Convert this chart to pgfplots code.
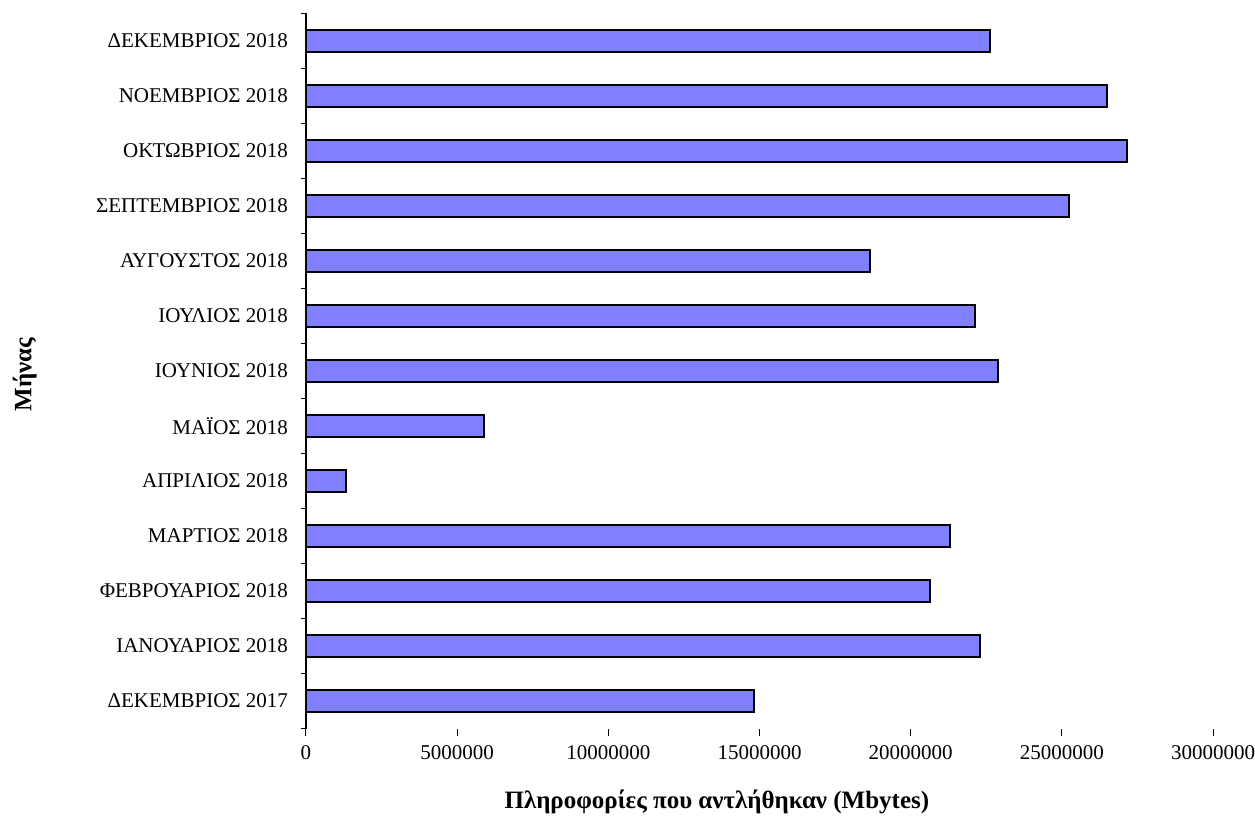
\documentclass[border=0pt]{standalone}
\usepackage{fontspec}
\setmainfont{Liberation Serif}
\usepackage{pgfplots}
\pgfplotsset{compat=1.18}
\definecolor{barblue}{RGB}{128,128,255}

\pgfplotstableread{
pos value
0  14820000
1  22300000
2  20640000
3  21300000
4  1320000
5  5890000
6  22890000
7  22130000
8  18660000
9  25240000
10 27160000
11 26500000
12 22630000
}\monthdata

\begin{document}
\begin{tikzpicture}
\useasboundingbox (-306pt,-87.5pt) rectangle (949pt,728.5pt);
\begin{axis}[
    width=907pt, height=715pt,
    scale only axis,
    xbar, bar width=22pt,
    xmin=0, xmax=30000000,
    ymin=-0.5, ymax=12.5,
    axis x line*=bottom,
    axis y line*=left,
    x axis line style={draw=none},
    y axis line style={line width=1.2pt},
    xtick={0,5000000,...,30000000},
    scaled x ticks=false,
    xticklabel style={/pgf/number format/fixed, /pgf/number format/1000 sep={}, yshift=-6pt},
    ytick={0,...,12},
    yticklabels={ΔΕΚΕΜΒΡΙΟΣ 2017, ΙΑΝΟΥΑΡΙΟΣ 2018, ΦΕΒΡΟΥΑΡΙΟΣ 2018, ΜΑΡΤΙΟΣ 2018,
        ΑΠΡΙΛΙΟΣ 2018, ΜΑΪΟΣ 2018, ΙΟΥΝΙΟΣ 2018, ΙΟΥΛΙΟΣ 2018, ΑΥΓΟΥΣΤΟΣ 2018,
        ΣΕΠΤΕΜΒΡΙΟΣ 2018, ΟΚΤΩΒΡΙΟΣ 2018, ΝΟΕΜΒΡΙΟΣ 2018, ΔΕΚΕΜΒΡΙΟΣ 2018},
    minor ytick={-0.5,0.5,...,12.5},
    major y tick style={draw=none},
    minor y tick style={line width=1pt, black},
    minor tick length=5pt,
    major x tick style={line width=1pt, black},
    major tick length=7pt,
    tick align=outside,
    yticklabel style={xshift=-7.5pt},
    ticklabel style={font=\fontsize{21}{25}\selectfont},
    /pgf/number format/assume math mode=true,
    xlabel={\textbf{Πληροφορίες που αντλήθηκαν (Mbytes)}},
    xlabel style={at={(axis description cs:0.453,-0.103)}, anchor=center,
        font=\fontsize{25}{29}\selectfont},
    ylabel={\textbf{Μήνας}},
    ylabel style={at={(axis description cs:-0.310,0.495)}, anchor=center, rotate=0,
        font=\fontsize{25}{29}\selectfont},
]
\addplot[fill=barblue, draw=black, line width=1.5pt] table[x=value, y=pos] {\monthdata};
\end{axis}
\end{tikzpicture}
\end{document}
